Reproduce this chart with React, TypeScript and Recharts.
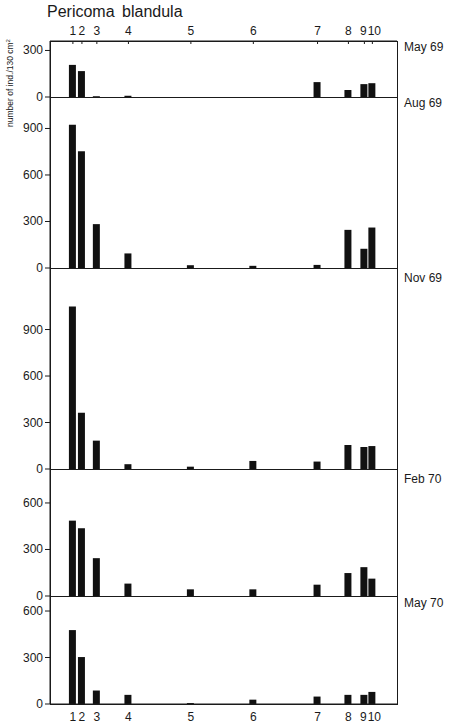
import React from 'react'
import { BarChart, Bar, XAxis, YAxis } from 'recharts'

const FONT = "'Liberation Sans', Arial, sans-serif"
const INK = '#1a1a1a'

// stations along the stream, x position in % of the axis length
const STATIONS = ['1', '2', '3', '4', '5', '6', '7', '8', '9', '10']
const STATION_POS = [6.6, 9.2, 13.5, 22.6, 40.6, 58.6, 77.1, 86.0, 90.6, 92.9]

// number of individuals / 130 cm2 per station
const MAY69 = [207, 167, 5, 8, 0, 0, 96, 45, 83, 89]
const AUG69 = [924, 753, 283, 94, 18, 14, 20, 246, 124, 261]
const NOV69 = [1048, 363, 183, 31, 15, 52, 48, 155, 142, 148]
const FEB70 = [486, 437, 244, 80, 43, 43, 73, 148, 186, 112]
const MAY70 = [477, 303, 87, 59, 6, 28, 48, 59, 59, 78]

const DATES = ['May 69', 'Aug 69', 'Nov 69', 'Feb 70', 'May 70']
const SERIES = [MAY69, AUG69, NOV69, FEB70, MAY70]
const Y_MAX = [361, 1103, 1297, 819, 697]
const Y_TICKS = [[0, 300], [0, 300, 600, 900], [0, 300, 600, 900], [0, 300, 600], [0, 300, 600]]

// plot boxes (page px): top edge and zero line of every panel
const PANEL_TOP = [41, 97, 268, 469, 596]
const PANEL_ZERO = [97, 268, 469, 596, 704]
// date label offset below the panel top
const DATE_DY = [-1, -1, 3, 3, 0]

const stationLabel = (v: number) => STATIONS[STATION_POS.indexOf(v)] ?? ''
// "9" and "10" sit almost on top of each other, nudge them apart a bit
const nudge = (s: string) => (s === '10' ? 2 : s === '9' ? -1 : 0)

const textProps = { fontSize: 12, fill: INK, fontFamily: FONT }

function LeftTick({ x, y, payload }: any) {
  return (
    <g>
      <path d={`M${x + 2},${y}h5`} stroke={INK} />
      <text x={x} y={y} dy={4} textAnchor="end" {...textProps}>{payload.value}</text>
    </g>
  )
}

function RightTick({ x, y }: any) {
  return <path d={`M${x - 4},${y}h4`} stroke={INK} />
}

function TopTick({ x, y, payload }: any) {
  const s = stationLabel(payload.value)
  return (
    <g>
      <path d={`M${x},${y}v3`} stroke={INK} />
      <text x={x + nudge(s)} y={y - 6} textAnchor="middle" {...textProps}>{s}</text>
    </g>
  )
}

function BottomTick({ x, y, payload }: any) {
  const s = stationLabel(payload.value)
  return <text x={x + nudge(s)} y={y + 17} textAnchor="middle" {...textProps}>{s}</text>
}

function Panel({ idx }: { idx: number }) {
  const first = idx === 0
  const last = idx === SERIES.length - 1
  const plotH = PANEL_ZERO[idx] - PANEL_TOP[idx]
  const topPad = first ? 20 : 0
  const botPad = last ? 20 : 0
  const data = STATION_POS.map((pos, i) => ({ pos, n: SERIES[idx][i] }))

  return (
    <div style={{ position: 'absolute', left: 0, top: PANEL_TOP[idx] - topPad }}>
      <BarChart width={455} height={plotH + topPad + botPad} data={data}
        margin={{ top: 0, right: 58, bottom: 0, left: 10 }}>
        <XAxis type="number" dataKey="pos" domain={[0, 100]} ticks={STATION_POS} interval={0}
          tick={last ? <BottomTick /> : false} tickLine={false} tickSize={0} tickMargin={0}
          stroke={INK} axisLine height={botPad} allowDataOverflow />
        {first && (
          <XAxis xAxisId="top" orientation="top" type="number" dataKey="pos" domain={[0, 100]}
            ticks={STATION_POS} interval={0} tick={<TopTick />} tickLine={false}
            tickSize={0} tickMargin={0} stroke={INK} height={topPad} allowDataOverflow />
        )}
        <YAxis type="number" domain={[0, Y_MAX[idx]]} ticks={Y_TICKS[idx]} interval={0} allowDataOverflow
          width={40} tickSize={5} tickMargin={2} tickLine={false} tick={<LeftTick />} stroke={INK} />
        <YAxis yAxisId="r" orientation="right" mirror type="number" domain={[0, Y_MAX[idx]]}
          ticks={Y_TICKS[idx].slice(1)} interval={0} allowDataOverflow width={0}
          tickSize={0} tickMargin={0} tickLine={false} tick={<RightTick />} stroke={INK} />
        <Bar dataKey="n" fill="#111" barSize={7} isAnimationActive={false} />
      </BarChart>
      <div style={{
        position: 'absolute', left: 404, top: topPad + DATE_DY[idx],
        fontFamily: FONT, fontSize: 12, color: INK, whiteSpace: 'nowrap',
      }}>{DATES[idx]}</div>
    </div>
  )
}

// outer frame and zero lines of the stacked panels
function Frame() {
  const top = PANEL_TOP[0]
  const bottom = PANEL_ZERO[PANEL_ZERO.length - 1]
  const d = [
    `M50.5,${top}V${bottom}`,
    `M397.5,${top}V${bottom}`,
    `M50,${top + 0.5}H398`,
    ...PANEL_ZERO.map(z => `M50,${z + 0.5}H398`),
  ].join('')
  return (
    <svg width={455} height={724} style={{ position: 'absolute', left: 0, top: 0, pointerEvents: 'none' }}>
      <path d={d} stroke={INK} fill="none" strokeWidth={1} />
    </svg>
  )
}

export default function App() {
  return (
    <div style={{ position: 'absolute', left: 0, top: 0, width: 455, height: 724, background: '#fff' }}>
      <style>{'.recharts-surface{overflow:visible}'}</style>
      <div style={{ position: 'absolute', left: 47, top: 3, fontFamily: FONT, fontSize: 16, color: INK, wordSpacing: 3 }}>
        Pericoma blandula
      </div>
      <div style={{
        position: 'absolute', left: 10, top: 83, transform: 'translate(-50%, -50%) rotate(-90deg)',
        fontFamily: FONT, fontSize: 8.5, color: INK, whiteSpace: 'nowrap',
      }}>
        number of ind./130 cm<sup style={{ fontSize: 6 }}>2</sup>
      </div>
      {SERIES.map((_, i) => <Panel key={i} idx={i} />)}
      <Frame />
    </div>
  )
}
